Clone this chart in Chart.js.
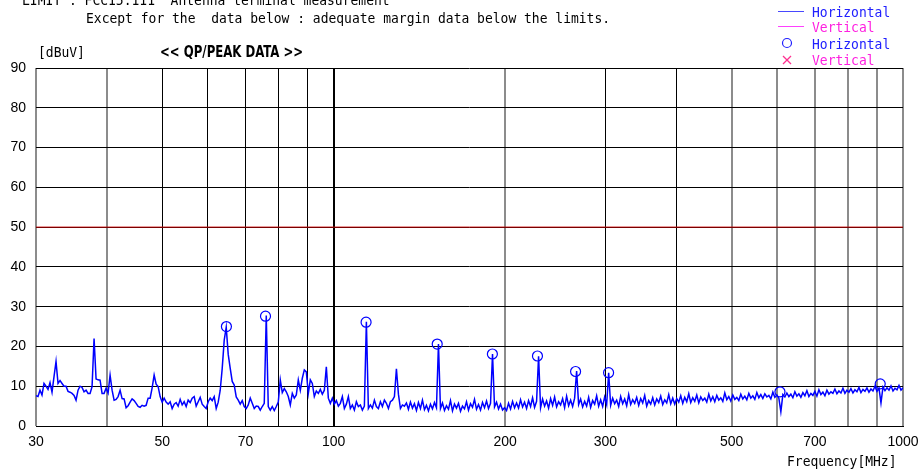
<!DOCTYPE html>
<html>
<head>
<meta charset="utf-8">
<script src="https://cdn.jsdelivr.net/npm/chart.js@4.4.0/dist/chart.umd.min.js"></script>
<style>
  body { margin: 0; background: #fff; }
  #wrap { position: relative; width: 919px; height: 470px; overflow: hidden; }
  #c { position: absolute; left: 0; top: 0; }
  .t { position: absolute; font-family: 'DejaVu Sans Mono', 'Liberation Mono', monospace; font-size: 14px; line-height: 14px; white-space: pre; color: #000; transform: scaleX(0.928); transform-origin: 0 0; }
  .hz { color: #2020ff; }
  .vt { color: #ff20e0; }
  .ttl { position: absolute; font-family: 'DejaVu Sans Condensed', 'DejaVu Sans', sans-serif; font-weight: bold; font-size: 15px; line-height: 15px; white-space: pre; transform: scaleX(0.87); transform-origin: 0 0; }
  .sw { position: absolute; left: 778px; width: 26px; height: 1px; }
</style>
</head>
<body>
<div id="wrap">
  <canvas id="c" width="919" height="470"></canvas>
  <div class="t" style="left:22px; top:-7px;">LIMIT : FCC15.111  Antenna terminal measurement</div>
  <div class="t" style="left:86px; top:11px;">Except for the  data below : adequate margin data below the limits.</div>
  <div class="t" style="left:38px; top:45px;">[dBuV]</div>
  <div class="ttl" style="left:160px; top:45px;">&lt;&lt; QP/PEAK DATA &gt;&gt;</div>
  <div class="t" style="left:787px; top:454px;">Frequency[MHz]</div>

  <div class="sw" style="top:11px; background:#4848ff;"></div>
  <div class="sw" style="top:26px; background:#ff40ff;"></div>
  <svg style="position:absolute; left:770px; top:30px;" width="40" height="40">
    <circle cx="17" cy="13" r="4.5" fill="none" stroke="#2020ff" stroke-width="1.2"/>
    <line x1="13" y1="26" x2="21" y2="34" stroke="#ff3090" stroke-width="1.2"/>
    <line x1="21" y1="26" x2="13" y2="34" stroke="#ff3090" stroke-width="1.2"/>
  </svg>
  <div class="t hz" style="left:812px; top:5px;">Horizontal</div>
  <div class="t vt" style="left:812px; top:20px;">Vertical</div>
  <div class="t hz" style="left:812px; top:37px;">Horizontal</div>
  <div class="t vt" style="left:812px; top:53px;">Vertical</div>
</div>
<script>
// sweep 30 - 1000 MHz, levels in dBuV
var sweepStart = 30, sweepStop = 1000;

var level30to50 = [7.6,7.4,9.0,7.8,10.7,10.0,9.2,10.9,8.5,12.4,
  16.2,10.7,11.4,10.7,10.0,10.0,8.7,8.5,8.2,7.7,
  6.5,9.0,10.0,9.7,8.6,9.0,8.2,8.2,9.9,22.0,
  11.8,11.6,11.5,8.2,8.2,9.5,8.3,12.8,9.0,6.5,
  6.7,7.4,9.0,6.9,6.8,4.6,5.1,6.0,6.8,6.4,
  5.7,4.9,4.7,5.2,5.0,5.2,7.0,7.0,9.6,12.8,
  10.5,9.9,7.4,6.0];

var level50to130 = [7.0,6.0,5.5,6.1,4.4,5.5,5.9,5.0,6.7,5.3,
  6.1,4.9,6.5,5.9,7.0,7.4,5.0,6.1,7.2,5.5,
  4.9,4.4,6.1,7.0,6.4,7.4,4.4,6.0,9.0,14.5,
  21.6,24.8,18.0,14.5,11.2,10.3,7.3,6.5,5.5,6.4,
  4.9,4.4,5.3,7.0,5.7,4.4,5.0,4.9,4.0,4.9,
  5.7,27.8,4.9,4.0,4.9,3.9,4.9,6.0,11.6,8.4,
  9.4,8.6,7.4,5.3,8.2,7.0,7.8,11.6,9.0,12.0,
  14.1,13.6,8.2,11.6,10.7,7.4,8.8,8.2,9.2,8.0,
  9.0,14.9,7.0,5.7,7.0,5.5,6.4,5.0,5.7,7.4,
  4.4,5.5,7.4,4.4,5.3,4.0,6.1,4.9,5.3,4.0,
  5.0,26.2,4.4,5.3,4.5,6.5,4.9,4.4,6.1,4.9,
  6.5,5.7,4.4,6.1,6.5,7.4,14.4,8.0,4.4,5.3,
  5.0];

var level130to400 = [5.8,4.2,6.0,4.5,5.6,3.9,5.9,4.4,6.5,4.1,
  5.2,3.8,5.5,4.3,5.9,4.6,20.6,4.4,5.8,3.9,
  5.1,4.2,6.4,3.8,5.5,4.5,5.7,3.7,5.0,4.3,
  6.1,4.0,5.6,4.7,6.7,4.2,5.4,4.0,5.9,4.6,
  6.3,4.4,5.7,18.1,4.8,6.0,4.3,5.5,4.0,4.6,
  3.9,5.7,4.3,6.2,4.6,5.8,4.5,6.6,4.8,6.0,
  4.4,6.4,4.9,7.1,4.7,6.2,17.5,4.6,6.8,5.0,
  6.3,4.5,6.9,5.2,7.3,4.8,6.1,5.3,6.9,4.6,
  7.5,5.1,6.5,4.9,7.0,13.8,5.4,6.8,4.8,6.2,
  5.0,7.2,4.7,6.4,5.5,7.6,5.0,6.6,4.9,7.3,
  5.4,13.4,5.2,7.0,5.6,6.5,4.9,7.4,5.6,6.8,
  5.1,7.9,5.4,6.6,5.7,7.2,5.2,6.9,5.8,7.7,
  5.0,6.4,5.5,7.1,5.3,6.8,5.9,7.5,5.4,6.6,
  5.8,7.9,5.6,7.0,5.5,6.9];

var level400to1000 = [6.0,7.6,5.7,7.2,6.1,8.1,5.9,7.1,6.2,7.8,
  5.8,7.3,6.4,7.0,6.0,8.0,6.3,7.4,6.1,7.7,
  6.5,7.1,6.2,8.3,6.6,7.4,6.3,7.8,6.7,7.2,
  6.4,8.0,6.8,7.5,6.6,8.2,7.0,7.6,6.7,8.4,
  7.1,7.9,6.9,8.1,7.3,7.7,6.8,8.5,7.2,7.8,
  7.0,3.6,7.9,7.3,8.3,7.4,8.0,7.1,8.6,7.5,
  8.1,7.2,8.4,7.6,8.9,7.4,8.2,7.7,8.7,7.5,
  9.1,7.9,8.5,7.6,9.0,8.0,8.6,8.2,9.3,8.1,
  8.8,8.3,9.5,8.2,9.0,8.5,9.4,8.3,9.1,8.6,
  9.7,8.4,9.2,8.7,9.6,8.5,9.3,8.8,10.0,8.7,
  9.5,5.8,9.8,8.9,9.6,9.0,10.1,8.8,9.5,9.1,
  10.2,9.0,9.6];

// QP / peak readings (horizontal)
var peakFreq  = [64.8, 75.9, 114, 152, 190, 228, 266, 304, 608, 912];
var peakLevel = [25.0, 27.6, 26.1, 20.6, 18.1, 17.6, 13.7, 13.4, 8.6, 10.6];

var limitFreq  = [30, 1000];
var limitLevel = [50, 50];

var gridFreqs  = [30,40,50,60,70,80,90,100,200,300,400,500,600,700,800,900,1000];
var labelFreqs = [30,50,70,100,200,300,500,700,1000];
var softLines  = [30,40,200,500,600,700,800,900,1000];

var level = [].concat(level30to50, level50to130, level130to400, level400to1000);
var n = level.length;
var trace = level.map(function(v, i){
  return {x: sweepStart * Math.pow(sweepStop / sweepStart, i / (n - 1)), y: v};
});
var peaks = peakFreq.map(function(f, i){ return {x: f, y: peakLevel[i]}; });
var limit = limitFreq.map(function(f, i){ return {x: f, y: limitLevel[i]}; });

var tickFont = {family: "'Liberation Sans', Arial, sans-serif", size: 14};

new Chart(document.getElementById('c'), {
  type: 'line',
  data: {
    datasets: [
      {data: limit, borderColor: '#cc0000', borderWidth: 1, pointRadius: 0},
      {data: trace, borderColor: '#0000ff', borderWidth: 1.5, pointRadius: 0, tension: 0},
      {data: peaks, showLine: false, pointRadius: 5, pointBorderWidth: 1.2,
       borderColor: '#0000ff', backgroundColor: 'rgba(0,0,0,0)', pointStyle: 'circle'}
    ]
  },
  options: {
    responsive: false,
    animation: false,
    devicePixelRatio: 1,
    layout: {padding: {left: 0, right: 16, top: 68, bottom: 0}},
    plugins: {legend: {display: false}, tooltip: {enabled: false}},
    scales: {
      x: {
        type: 'logarithmic', min: 30, max: 1000,
        afterBuildTicks: function(s){ s.ticks = gridFreqs.map(function(v){ return {value: v}; }); },
        afterFit: function(s){ s.height = 44; s.paddingLeft = 0; s.paddingRight = 0; },
        grid: {
          drawTicks: false,
          color: function(ctx){ return softLines.indexOf(ctx.tick.value) > -1 ? '#8c8c8c' : '#000'; },
          lineWidth: function(ctx){
            if (ctx.tick.value == 100) return 2;
            return softLines.indexOf(ctx.tick.value) > -1 ? 2 : 1;
          }
        },
        border: {display: true, color: '#000'},
        ticks: {
          autoSkip: false, maxRotation: 0, padding: 8, color: '#000', font: tickFont,
          callback: function(v){ return labelFreqs.indexOf(v) > -1 ? String(v) : ''; }
        }
      },
      y: {
        min: 0, max: 90,
        afterFit: function(s){ s.width = 36; },
        grid: {drawTicks: false, color: '#000'},
        border: {display: false},
        ticks: {stepSize: 10, padding: 10, color: '#000', font: tickFont}
      }
    }
  }
});
</script>
</body>
</html>
